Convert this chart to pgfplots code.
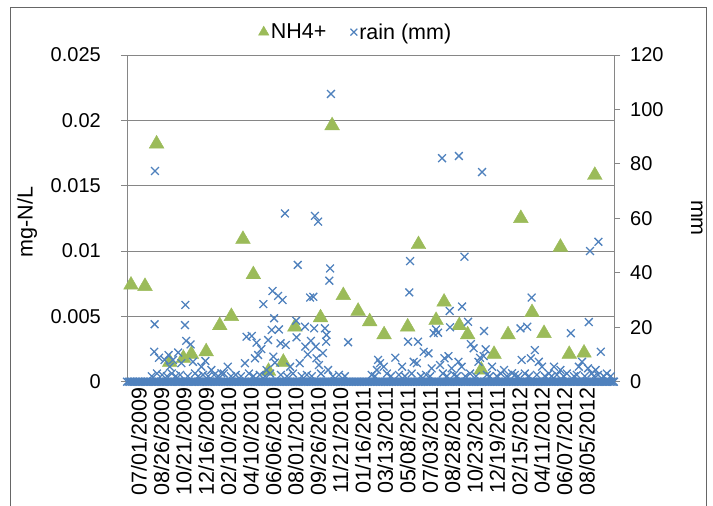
\documentclass[border=0pt]{standalone}
\usepackage{pgfplots}
\pgfplotsset{compat=1.18}
\usepackage{fontspec}
\setmainfont{Liberation Sans}
\definecolor{nhgreen}{RGB}{155,187,89}
\definecolor{rainblue}{RGB}{79,129,189}
\definecolor{gridgray}{RGB}{134,134,134}
\newcommand{\chartfont}{\fontsize{20}{23}\selectfont}
\newcommand{\bigchartfont}{\fontsize{21.5}{25}\selectfont}

\begin{document}
\begin{tikzpicture}[x=1pt,y=1pt]
\useasboundingbox (0,0) rectangle (713,506);
\draw[black!60, line width=0.9pt] (10,-5) -- (10,499) -- (706,499) -- (706,-5);

\begin{axis}[
  at={(127pt,124.3pt)}, anchor=south west,
  scale only axis, width=487pt, height=326.7pt,
  xmin=0, xmax=1218, ymin=0, ymax=0.025,
  scaled y ticks=false,
  axis x line*=bottom, axis y line*=left,
  axis line style={gridgray, line width=0.9pt, -},
  xtick={0,56,112,168,224,280,336,392,448,504,560,616,672,728,784,840,896,952,1008,1064,1120},
  xticklabels={07/01/2009,08/26/2009,10/21/2009,12/16/2009,02/10/2010,04/10/2010,06/06/2010,08/01/2010,09/26/2010,11/21/2010,01/16/2011,03/13/2011,05/08/2011,07/03/2011,08/28/2011,10/23/2011,12/19/2011,02/15/2012,04/11/2012,06/07/2012,08/05/2012},
  x tick style={draw=none},
  ytick={0,0.005,0.01,0.015,0.02,0.025},
  yticklabels={0,0.005,0.01,0.015,0.02,0.025},
  y tick style={gridgray, line width=0.9pt},
  tick align=outside, major tick length=6pt,
  ymajorgrids, grid style={gridgray, line width=0.9pt},
  tick label style={font=\chartfont},
  /pgf/number format/assume math mode=true,
  xticklabel style={rotate=90, anchor=east, inner sep=0pt, yshift=-12pt, font=\bigchartfont},
  yticklabel style={anchor=east, inner sep=0pt, xshift=-20pt},
  legend style={at={(0.47,1.07)}, anchor=center, draw=none, fill=none,
    font=\bigchartfont, legend columns=2,
    /tikz/every even column/.append style={column sep=22pt}},
  legend cell align=left,
  legend image code/.code={\draw[#1] plot coordinates {(0.3cm,0cm)};},
  clip=false,
]
\addlegendimage{only marks, mark=triangle*, mark size=6pt, color=nhgreen}
\addlegendentry{NH4+}
\addlegendimage{only marks, mark=x, mark size=4.8pt, color=rainblue, line width=1.1pt}
\addlegendentry{rain (mm)}
\addplot[only marks, mark=triangle*, mark size=8.5pt, color=nhgreen, forget plot] table {
x y
10 0.0074
45 0.0073
74 0.0182
107 0.0015
141 0.0018
161 0.0021
198 0.0023
232 0.0043
261 0.0050
290 0.0109
316 0.0082
354 0.0008
391 0.0015
420 0.0042
484 0.0049
513 0.0196
541 0.0066
578 0.0054
607 0.0046
643 0.0036
702 0.0042
729 0.0105
773 0.0047
793 0.0061
831 0.0043
852 0.0036
886 0.0009
918 0.0021
953 0.0036
985 0.0125
1013 0.0053
1043 0.0037
1084 0.0103
1106 0.0021
1143 0.0022
1170 0.0158
};
\end{axis}

\begin{axis}[
  at={(127pt,124.3pt)}, anchor=south west,
  scale only axis, width=487pt, height=326.7pt,
  xmin=0, xmax=1218, ymin=0, ymax=120,
  axis x line=none, axis y line*=right,
  axis line style={gridgray, line width=0.9pt, -},
  ytick={0,20,40,60,80,100,120},
  y tick style={gridgray, line width=0.9pt},
  tick align=outside, major tick length=6pt,
  tick label style={font=\chartfont},
  /pgf/number format/assume math mode=true,
  yticklabel style={anchor=west, inner sep=0pt, xshift=10pt},
  clip=false,
]
% days with zero rain
\addplot[only marks, mark=x, mark size=5.5pt, color=rainblue, line width=1.3pt] coordinates {
(0,0)(4,0)(8,0)(12,0)(16,0)(20,0)(24,0)(28,0)(32,0)(36,0)(40,0)(44,0)(48,0)(52,0)(56,0)(60,0)(64,0)(68,0)(72,0)(76,0)(80,0)(84,0)(88,0)(92,0)(96,0)
(100,0)(104,0)(108,0)(112,0)(116,0)(120,0)(124,0)(128,0)(132,0)(136,0)(140,0)(144,0)(148,0)(152,0)(156,0)(160,0)(164,0)(168,0)(172,0)(176,0)(180,0)(184,0)(188,0)(192,0)(196,0)
(200,0)(204,0)(208,0)(212,0)(216,0)(220,0)(224,0)(228,0)(232,0)(236,0)(240,0)(244,0)(248,0)(252,0)(256,0)(260,0)(264,0)(268,0)(272,0)(276,0)(280,0)(284,0)(288,0)(292,0)(296,0)
(300,0)(304,0)(308,0)(312,0)(316,0)(320,0)(324,0)(328,0)(332,0)(336,0)(340,0)(344,0)(348,0)(352,0)(356,0)(360,0)(364,0)(368,0)(372,0)(376,0)(380,0)(384,0)(388,0)(392,0)(396,0)
(400,0)(404,0)(408,0)(412,0)(416,0)(420,0)(424,0)(428,0)(432,0)(436,0)(440,0)(444,0)(448,0)(452,0)(456,0)(460,0)(464,0)(468,0)(472,0)(476,0)(480,0)(484,0)(488,0)(492,0)(496,0)
(500,0)(504,0)(508,0)(512,0)(516,0)(520,0)(524,0)(528,0)(532,0)(536,0)(540,0)(544,0)(548,0)(552,0)(556,0)(560,0)(564,0)(568,0)(572,0)(576,0)(580,0)(584,0)(588,0)(592,0)(596,0)
(600,0)(604,0)(608,0)(612,0)(616,0)(620,0)(624,0)(628,0)(632,0)(636,0)(640,0)(644,0)(648,0)(652,0)(656,0)(660,0)(664,0)(668,0)(672,0)(676,0)(680,0)(684,0)(688,0)(692,0)(696,0)
(700,0)(704,0)(708,0)(712,0)(716,0)(720,0)(724,0)(728,0)(732,0)(736,0)(740,0)(744,0)(748,0)(752,0)(756,0)(760,0)(764,0)(768,0)(772,0)(776,0)(780,0)(784,0)(788,0)(792,0)(796,0)
(800,0)(804,0)(808,0)(812,0)(816,0)(820,0)(824,0)(828,0)(832,0)(836,0)(840,0)(844,0)(848,0)(852,0)(856,0)(860,0)(864,0)(868,0)(872,0)(876,0)(880,0)(884,0)(888,0)(892,0)(896,0)
(900,0)(904,0)(908,0)(912,0)(916,0)(920,0)(924,0)(928,0)(932,0)(936,0)(940,0)(944,0)(948,0)(952,0)(956,0)(960,0)(964,0)(968,0)(972,0)(976,0)(980,0)(984,0)(988,0)(992,0)(996,0)
(1000,0)(1004,0)(1008,0)(1012,0)(1016,0)(1020,0)(1024,0)(1028,0)(1032,0)(1036,0)(1040,0)(1044,0)(1048,0)(1052,0)(1056,0)(1060,0)(1064,0)(1068,0)(1072,0)(1076,0)(1080,0)(1084,0)(1088,0)(1092,0)(1096,0)
(1100,0)(1104,0)(1108,0)(1112,0)(1116,0)(1120,0)(1124,0)(1128,0)(1132,0)(1136,0)(1140,0)(1144,0)(1148,0)(1152,0)(1156,0)(1160,0)(1164,0)(1168,0)(1172,0)(1176,0)(1180,0)(1184,0)(1188,0)(1192,0)(1196,0)
(1200,0)(1204,0)(1208,0)(1212,0)(1216,0)(1218,0)
};
% small rain amounts
\addplot[only marks, mark=x, mark size=5.5pt, color=rainblue, line width=1.3pt] coordinates {
(62,2)(75,3)(88,2.5)(100,2)(112,3)(122,2)(133,2.5)(152,2)(170,3)(178,2)(190,2.5)(203,2)(218,2.5)(228,2)(242,3)(260,2)(272,2.5)(285,2)
(305,3)(316,2)(332,2.5)(345,2)(358,3)(385,2.5)(400,2)(415,3)(437,2)(450,2.5)(462,2)(485,3)(515,2)(530,2.5)(545,2)
(612,2.5)(620,2)(650,3)(660,2)(680,2.5)(695,2)(712,3)(735,2)(748,2.5)(758,2)(790,3)(800,2)(818,2.5)(825,2)(846,2)(858,3)(873,2)(900,2.5)(907,2)
(925,2)(935,3)(950,2)(970,2.5)(978,2)(995,3)(1005,2)(1025,2.5)(1045,2)(1055,3)(1062,2)(1075,2.5)(1092,2)(1100,3)(1118,2)(1125,2.5)(1145,2)(1162,3)(1168,2)(1178,2.5)(1192,2)(1200,3)(1210,2)
};
% larger rain amounts
\addplot[only marks, mark=x, mark size=5.5pt, color=rainblue, line width=1.3pt] table {
x y
68 11.0
69 21.1
70 77.4
80 8.8
94 8.0
104 9.8
107 5.5
115 8.0
128 10.7
136 6.8
145 20.8
146 28.2
148 15.0
159 13.7
165 7.3
186 5.5
196 7.6
211 4.3
236 3.1
252 5.5
295 6.8
299 16.5
312 16.8
320 8.6
324 14.3
328 9.8
336 12.0
341 28.5
349 4.3
353 15.3
362 19.0
364 33.3
366 9.2
368 23.3
370 7.0
378 31.5
380 19.2
384 14.1
389 30.0
395 61.8
397 13.5
408 5.5
423 22.4
424 16.3
427 42.9
432 6.8
445 20.2
446 12.9
452 10.0
458 30.9
460 15.0
466 31.2
468 19.6
470 60.9
472 12.9
474 8.6
478 58.8
480 6.1
490 10.5
495 19.6
498 14.7
499 17.2
503 4.3
506 37.1
508 41.6
510 105.7
553 14.5
625 4.3
628 8.0
633 6.8
642 5.5
671 8.8
688 5.5
703 14.7
706 32.8
708 44.3
717 7.3
725 6.8
728 14.7
742 11.0
754 10.4
762 4.9
767 17.8
773 19.2
778 18.0
783 6.1
788 82.1
794 8.6
804 9.4
807 26.0
808 20.0
812 4.9
829 7.3
830 82.9
837 5.5
838 27.6
844 45.9
853 22.0
860 13.8
867 12.3
879 7.3
883 8.8
888 77.0
892 9.4
893 18.6
897 11.9
913 5.5
943 4.3
963 3.1
984 19.6
987 8.0
1001 20.2
1010 8.6
1012 30.9
1020 11.6
1030 7.3
1038 5.5
1068 5.5
1084 4.3
1110 17.8
1130 5.5
1138 7.3
1153 4.9
1155 21.9
1158 48.0
1172 4.3
1179 51.4
1185 11.0
};
\end{axis}

\node[rotate=90, font=\bigchartfont] at (27,284) {mg-N/L};
\node[rotate=-90, font=\bigchartfont] at (697,288) {mm};
\end{tikzpicture}
\end{document}
